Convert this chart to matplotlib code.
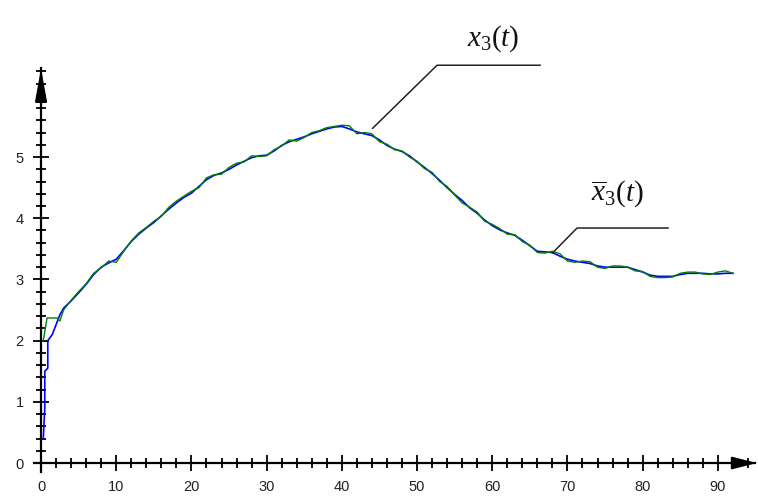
import matplotlib
matplotlib.use("Agg")
import matplotlib.pyplot as plt
from matplotlib.ticker import MultipleLocator

plt.rcParams['mathtext.fontset'] = 'custom'
plt.rcParams['mathtext.rm'] = 'Liberation Serif'
plt.rcParams['mathtext.it'] = 'Liberation Serif:italic'

# ---- data ----
t_early_blue = [0.3, 0.5, 0.5, 0.9, 0.9, 1.5, 2.5]
v_early_blue = [0.4, 0.9, 1.5, 1.55, 2.0, 2.1, 2.42]
t_main = list(range(3, 93))
blue_main = [2.53, 2.65, 2.78, 2.92, 3.08, 3.20, 3.27, 3.33, 3.47, 3.62,
             3.74, 3.84, 3.93, 4.04, 4.15, 4.25, 4.34, 4.41, 4.52, 4.63,
             4.70, 4.74, 4.80, 4.87, 4.93, 4.99, 5.02, 5.03, 5.10, 5.19,
             5.25, 5.29, 5.33, 5.38, 5.42, 5.46, 5.49, 5.50, 5.46, 5.41,
             5.38, 5.35, 5.28, 5.19, 5.13, 5.09, 5.02, 4.92, 4.83, 4.73,
             4.62, 4.50, 4.39, 4.29, 4.17, 4.08, 3.97, 3.88, 3.81, 3.76,
             3.72, 3.64, 3.55, 3.46, 3.45, 3.44, 3.38, 3.33, 3.30, 3.28,
             3.26, 3.22, 3.20, 3.20, 3.20, 3.20, 3.16, 3.12, 3.07, 3.05,
             3.05, 3.05, 3.08, 3.10, 3.10, 3.10, 3.09, 3.09, 3.10, 3.10]
t_early_green = [0.3, 0.8, 2.1, 2.5]
v_early_green = [2.0, 2.37, 2.37, 2.32]
green_main = [2.50, 2.66, 2.80, 2.93, 3.10, 3.19, 3.30, 3.28, 3.46, 3.63,
              3.76, 3.85, 3.95, 4.03, 4.18, 4.28, 4.36, 4.44, 4.50, 4.66,
              4.71, 4.72, 4.83, 4.90, 4.92, 5.02, 5.01, 5.02, 5.12, 5.18,
              5.28, 5.26, 5.32, 5.40, 5.43, 5.48, 5.50, 5.52, 5.51, 5.38,
              5.40, 5.38, 5.25, 5.21, 5.12, 5.10, 5.00, 4.93, 4.81, 4.75,
              4.60, 4.52, 4.38, 4.25, 4.18, 4.10, 3.95, 3.90, 3.83, 3.74,
              3.73, 3.62, 3.56, 3.44, 3.43, 3.46, 3.42, 3.30, 3.28, 3.30,
              3.29, 3.20, 3.18, 3.22, 3.22, 3.20, 3.14, 3.13, 3.05, 3.03,
              3.03, 3.04, 3.10, 3.12, 3.12, 3.09, 3.08, 3.12, 3.14, 3.10]
x_ticks = [0, 10, 20, 30, 40, 50, 60, 70, 80, 90]
y_ticks = [0, 1, 2, 3, 4, 5]
label_top = r'$x_{\mathit{3}}(t)$'
label_mean = r'$\overline{x}_{\mathit{3}}(t)$'

t_blue = t_early_blue + t_main
v_blue = v_early_blue + blue_main
t_green = t_early_green + t_main
v_green = v_early_green + green_main

# ---- figure ----
fig = plt.figure(figsize=(7.58, 4.96), dpi=100)
ax = fig.add_axes([0.0442, 0.048, 0.9524, 0.8143])
ax.set_xlim(-1, 95)
ax.set_ylim(-0.15, 6.45)

ax.plot(t_blue, v_blue, color='#0000ff', lw=1.2, zorder=3)
ax.plot(t_green, v_green, color='#008000', lw=1.0, zorder=4)

for s in ['top', 'right']:
    ax.spines[s].set_visible(False)
ax.spines['left'].set_position(('data', 0))
ax.spines['bottom'].set_position(('data', 0))
ax.spines['left'].set_linewidth(1.6)
ax.spines['bottom'].set_linewidth(1.6)

ax.set_xticks(x_ticks)
ax.set_yticks(y_ticks)
ax.xaxis.set_minor_locator(MultipleLocator(2))
ax.yaxis.set_minor_locator(MultipleLocator(0.2))
ax.tick_params(which='major', direction='inout', length=11, width=1.3,
               labelsize=10.5, colors='black')
ax.tick_params(which='minor', direction='inout', length=6.5, width=1.3)
ax.tick_params(axis='x', which='major', pad=7)
ax.tick_params(axis='y', which='major', pad=7)
for lab in ax.get_xticklabels() + ax.get_yticklabels():
    lab.set_fontfamily('Liberation Sans')
    lab.set_color('#222222')

# axis arrows
ax.annotate('', xy=(95.2, 0), xytext=(92.5, 0), xycoords='data',
            arrowprops=dict(arrowstyle='-|>,head_length=1.5,head_width=0.38',
                            color='black', lw=1.5, shrinkA=0, shrinkB=0),
            annotation_clip=False)
ax.annotate('', xy=(0, 6.45), xytext=(0, 5.8), xycoords='data',
            arrowprops=dict(arrowstyle='-|>,head_length=2.0,head_width=0.36',
                            color='black', lw=1.5, shrinkA=0, shrinkB=0),
            annotation_clip=False)

# leader lines and labels
ax.plot([44.1, 52.66, 66.36], [5.47, 6.50, 6.50], color='#222222', lw=1.1,
        clip_on=False, zorder=5)
ax.plot([68.0, 71.28, 83.38], [3.43, 3.84, 3.84], color='#222222', lw=1.1,
        clip_on=False, zorder=5)
ax.text(60.1, 6.94, label_top, fontsize=21, ha='center', va='center',
        color='#111111')
ax.text(76.7, 4.41, label_mean, fontsize=21, ha='center', va='center',
        color='#111111')

fig.savefig('out.png', dpi=100)
